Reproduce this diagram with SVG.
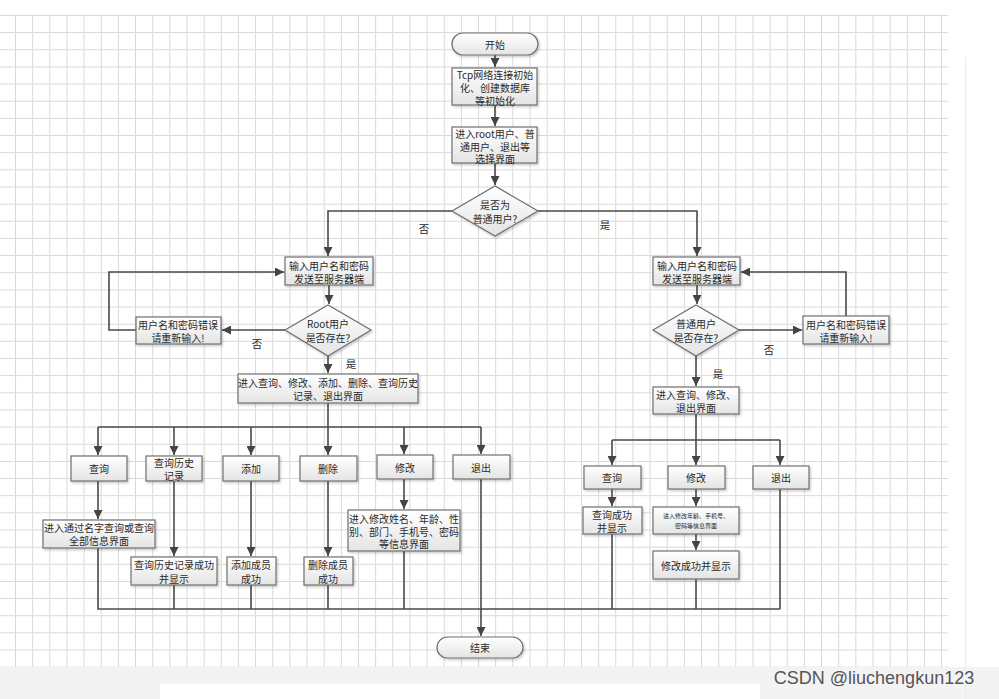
<svg xmlns="http://www.w3.org/2000/svg" width="999" height="699" viewBox="0 0 999 699">
<defs>
<pattern id="grid" x="15" y="15" width="17.15" height="17.15" patternUnits="userSpaceOnUse">
<path d="M0.5 0.5H17.15M0.5 0.5V17.15" stroke="#d8d8d8" stroke-width="1" fill="none"/>
</pattern>
<linearGradient id="bg" x1="0" y1="0" x2="0" y2="1">
<stop offset="0" stop-color="#ffffff"/>
<stop offset="1" stop-color="#e4e4e4"/>
</linearGradient>
<filter id="sh" x="-10%" y="-10%" width="125%" height="135%">
<feDropShadow dx="1.2" dy="1.5" stdDeviation="0.8" flood-color="#000" flood-opacity="0.22"/>
</filter>
<marker id="ar" viewBox="0 0 10 10" refX="10" refY="5" markerWidth="9" markerHeight="9" markerUnits="userSpaceOnUse" orient="auto">
<path d="M0,0 L10,5 L0,10 z" fill="#444"/>
</marker>
<style>
.n rect, .n polygon { fill: url(#bg); stroke: #707070; stroke-width: 1.2; filter: url(#sh); }
.n text { font-family: "Noto Sans CJK SC", "Liberation Sans", sans-serif; font-size: 10px; fill: #2a2a2a; text-anchor: middle; dominant-baseline: central; }
.n text.s { font-size: 6px; }
.c path { fill: none; stroke: #4a4a4a; stroke-width: 1.6; }
.c path.a { marker-end: url(#ar); }
.lb { font-family: "Noto Sans CJK SC", "Liberation Sans", sans-serif; font-size: 10.5px; fill: #2a2a2a; text-anchor: middle; dominant-baseline: central; }
</style>
</defs>
<rect width="999" height="699" fill="#ffffff"/>
<rect x="0" y="15" width="948" height="652" fill="url(#grid)"/>
<rect x="0" y="667" width="999" height="32" fill="#f3f3f3"/>
<rect x="160" y="684" width="600" height="15" fill="#ffffff"/>
<path d="M965.5 57V699" stroke="#e3eef8" stroke-width="1.2"/>
<text x="874" y="678" font-family="'Liberation Sans', sans-serif" font-size="18" fill="#555" text-anchor="middle" dominant-baseline="central">CSDN @liuchengkun123</text>

<g class="c">
<path class="a" d="M495,55 V67"/>
<path class="a" d="M495,105 V126"/>
<path class="a" d="M495,163 V185"/>
<path class="a" d="M452,211 H328 V256"/>
<path class="a" d="M538,211 H697 V256"/>
<path class="a" d="M329,285 V304"/>
<path class="a" d="M285,330 H222"/>
<path class="a" d="M136,330 H109 V272 H284"/>
<path class="a" d="M328,356 V373"/>
<path class="a" d="M697,285 V304"/>
<path class="a" d="M739,330 H802"/>
<path class="a" d="M846,316 V272 H741"/>
<path class="a" d="M696,356 V386"/>
<path d="M328,403 V427 M98,427 H481"/>
<path class="a" d="M98,427 V455"/>
<path class="a" d="M174,427 V455"/>
<path class="a" d="M251,427 V455"/>
<path class="a" d="M328,427 V455"/>
<path class="a" d="M404,427 V454"/>
<path class="a" d="M481,427 V454"/>
<path class="a" d="M98,481 V519"/>
<path class="a" d="M174,481 V556"/>
<path class="a" d="M251,481 V556"/>
<path class="a" d="M328,481 V556"/>
<path class="a" d="M404,479 V509"/>
<path class="a" d="M481,479 V636"/>
<path d="M98,548 V609 H780 M174,585 V609 M251,585 V609 M328,585 V609 M404,551 V609 M612,534 V609 M696,579 V609 M780,489 V609"/>
<path d="M696,414 V440 M612,440 H780"/>
<path class="a" d="M612,440 V465"/>
<path class="a" d="M696,440 V465"/>
<path class="a" d="M780,440 V465"/>
<path class="a" d="M612,489 V506"/>
<path class="a" d="M696,489 V506"/>
<path class="a" d="M696,534 V550"/>
</g>

<text class="lb" x="424" y="228">否</text>
<text class="lb" x="605" y="224">是</text>
<text class="lb" x="257" y="343">否</text>
<text class="lb" x="351" y="363">是</text>
<text class="lb" x="769" y="349">否</text>
<text class="lb" x="718" y="373">是</text>

<g id="start" class="n"><rect x="452" y="33" width="86" height="22" rx="11"/><text x="495" y="44">开始</text></g>
<g id="init" class="n"><rect x="452" y="68" width="85" height="37"/><text x="495" y="74">Tcp网络连接初始<tspan x="495" dy="13">化、创建数据库</tspan><tspan x="495" dy="13">等初始化</tspan></text></g>
<g id="select" class="n"><rect x="452" y="127" width="85" height="36"/><text x="495" y="133">进入root用户、普<tspan x="495" dy="12.5">通用户、退出等</tspan><tspan x="495" dy="12.5">选择界面</tspan></text></g>
<g id="isNormal" class="n"><polygon points="495,186 538,211 495,236 452,211"/><text x="495" y="204">是否为<tspan x="495" dy="14">普通用户?</tspan></text></g>

<g id="rootLogin" class="n"><rect x="285" y="257" width="88" height="28"/><text x="329" y="265">输入用户名和密码<tspan x="329" dy="13">发送至服务器端</tspan></text></g>
<g id="rootExists" class="n"><polygon points="328,305 371,330 328,356 285,330"/><text x="328" y="323">Root用户<tspan x="328" dy="14">是否存在?</tspan></text></g>
<g id="rootErr" class="n"><rect x="136" y="317" width="85" height="27"/><text x="178" y="324">用户名和密码错误<tspan x="178" dy="13">请重新输入!</tspan></text></g>
<g id="rootMenu" class="n"><rect x="238" y="374" width="180" height="29"/><text x="328" y="382">进入查询、修改、添加、删除、查询历史<tspan x="328" dy="13">记录、退出界面</tspan></text></g>

<g id="normLogin" class="n"><rect x="653" y="257" width="87" height="28"/><text x="697" y="265">输入用户名和密码<tspan x="697" dy="13">发送至服务器端</tspan></text></g>
<g id="normExists" class="n"><polygon points="696,305 739,330 696,356 653,330"/><text x="696" y="323">普通用户<tspan x="696" dy="14">是否存在?</tspan></text></g>
<g id="normErr" class="n"><rect x="803" y="316" width="86" height="28"/><text x="846" y="324">用户名和密码错误<tspan x="846" dy="13">请重新输入!</tspan></text></g>
<g id="normMenu" class="n"><rect x="653" y="387" width="86" height="27"/><text x="696" y="394">进入查询、修改、<tspan x="696" dy="13">退出界面</tspan></text></g>

<g id="rQuery" class="n"><rect x="71" y="456" width="56" height="25"/><text x="99" y="468">查询</text></g>
<g id="rHist" class="n"><rect x="146" y="456" width="56" height="25"/><text x="174" y="462">查询历史<tspan x="174" dy="13">记录</tspan></text></g>
<g id="rAdd" class="n"><rect x="223" y="456" width="56" height="25"/><text x="251" y="468">添加</text></g>
<g id="rDel" class="n"><rect x="300" y="456" width="57" height="25"/><text x="328" y="468">删除</text></g>
<g id="rMod" class="n"><rect x="377" y="455" width="56" height="24"/><text x="405" y="467">修改</text></g>
<g id="rExit" class="n"><rect x="453" y="455" width="57" height="24"/><text x="481" y="467">退出</text></g>

<g id="rQueryUI" class="n"><rect x="43" y="520" width="112" height="28"/><text x="99" y="527">进入通过名字查询或查询<tspan x="99" dy="13">全部信息界面</tspan></text></g>
<g id="rHistOk" class="n"><rect x="131" y="557" width="86" height="28"/><text x="174" y="564">查询历史记录成功<tspan x="174" dy="14">并显示</tspan></text></g>
<g id="rAddOk" class="n"><rect x="227" y="557" width="49" height="28"/><text x="251" y="564">添加成员<tspan x="251" dy="14">成功</tspan></text></g>
<g id="rDelOk" class="n"><rect x="304" y="557" width="49" height="28"/><text x="328" y="564">删除成员<tspan x="328" dy="14">成功</tspan></text></g>
<g id="rModUI" class="n"><rect x="348" y="510" width="112" height="41"/><text x="404" y="518">进入修改姓名、年龄、性<tspan x="404" dy="12.5">别、部门、手机号、密码</tspan><tspan x="404" dy="12.5">等信息界面</tspan></text></g>

<g id="nQuery" class="n"><rect x="584" y="466" width="57" height="23"/><text x="612" y="477">查询</text></g>
<g id="nMod" class="n"><rect x="668" y="466" width="57" height="23"/><text x="696" y="477">修改</text></g>
<g id="nExit" class="n"><rect x="753" y="466" width="56" height="23"/><text x="781" y="477">退出</text></g>
<g id="nQueryOk" class="n"><rect x="583" y="507" width="59" height="27"/><text x="612" y="514">查询成功<tspan x="612" dy="13">并显示</tspan></text></g>
<g id="nModUI" class="n"><rect x="653" y="507" width="86" height="27"/><text class="s" x="696" y="515">进入修改年龄、手机号、<tspan x="696" dy="10">密码等信息界面</tspan></text></g>
<g id="nModOk" class="n"><rect x="653" y="551" width="86" height="28"/><text x="696" y="565">修改成功并显示</text></g>

<g id="end" class="n"><rect x="437" y="637" width="86" height="21" rx="10.5"/><text x="480" y="647">结束</text></g>
</svg>
